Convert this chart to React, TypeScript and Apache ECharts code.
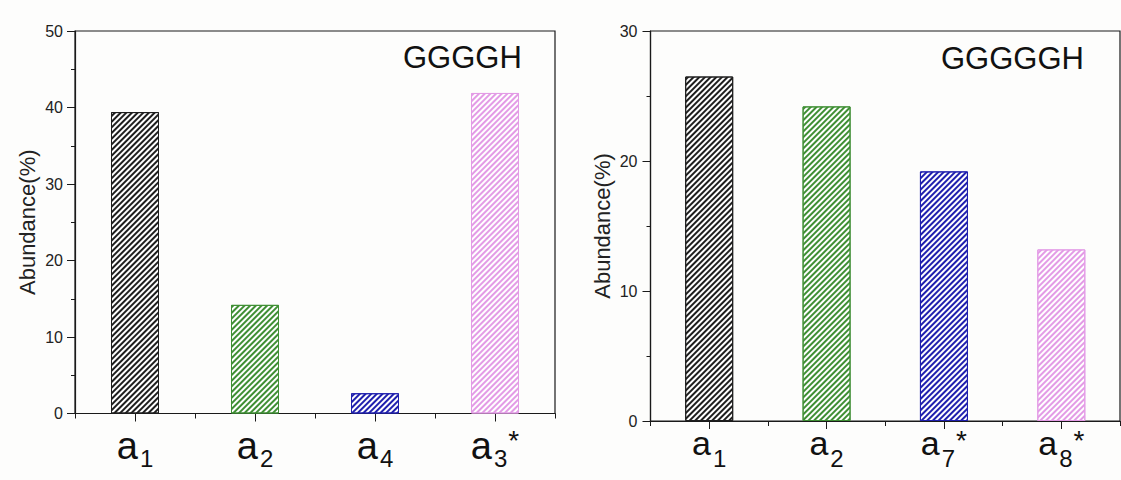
import { useEffect, useRef } from 'react';
import * as echarts from 'echarts';

const leftCategories = ['a1', 'a2', 'a4', 'a3*'];
const leftValues = [39.4, 14.2, 2.65, 41.9];
const rightCategories = ['a1', 'a2', 'a7*', 'a8*'];
const rightValues = [26.5, 24.2, 19.2, 13.2];
const leftTitle = 'GGGGH';
const rightTitle = 'GGGGGH';
const leftMax = 50;
const rightMax = 30;
const yName = 'Abundance(%)';
const barColors = ['#1e1e1e', '#3f8f34', '#1f1fae', '#e39be6'];

const FONT = "'Liberation Sans', Arial, sans-serif";
const AXIS = '#1a1a1a';

function fmtLabel(v: string) {
  const m = v.match(/^([a-z])(\d+)(\*?)$/);
  if (!m) return v;
  return `{a|${m[1]}}{s|${m[2]}}` + (m[3] ? `{st|*}` : '');
}

function rich(aSize: number, sSize: number) {
  return {
    a: { fontSize: aSize, fontFamily: FONT, color: '#111', verticalAlign: 'top', lineHeight: aSize + 2 },
    s: { fontSize: sSize, fontFamily: FONT, color: '#111', verticalAlign: 'top', lineHeight: sSize, padding: [20, 0, 0, 2] },
    st: { fontSize: sSize + 4, fontFamily: FONT, color: '#111', verticalAlign: 'top', lineHeight: sSize + 4, padding: [0, 0, 0, 1] },
  };
}

function barData(values: number[]) {
  return values.map((v, i) => ({
    value: v,
    itemStyle: {
      color: '#ffffff',
      borderColor: barColors[i],
      borderWidth: 1,
      decal: {
        symbol: 'rect',
        symbolSize: 1,
        color: barColors[i],
        dashArrayX: [1, 0],
        dashArrayY: [1.1, 1.9],
        rotation: -Math.PI / 4,
      },
    },
  }));
}

export default function App() {
  const ref = useRef<HTMLDivElement>(null);
  useEffect(() => {
    document.body.style.margin = '0';
    const chart = echarts.init(ref.current!, null, { renderer: 'svg' });
    const xMain = (gridIndex: number, data: string[], aSize: number, sSize: number, margin: number) => ({
      type: 'category',
      gridIndex,
      data,
      position: 'bottom',
      axisLine: { show: true, lineStyle: { color: AXIS, width: 1.2 } },
      axisTick: { show: true, alignWithLabel: true, length: 8, inside: false, lineStyle: { color: AXIS } },
      axisLabel: { margin, formatter: fmtLabel, rich: rich(aSize, sSize) },
      splitLine: { show: false },
    });
    const xMinor = (gridIndex: number, data: string[]) => ({
      type: 'category',
      gridIndex,
      data,
      position: 'bottom',
      axisLine: { show: false },
      axisTick: { show: true, length: 5, lineStyle: { color: AXIS } },
      axisLabel: { show: false },
      splitLine: { show: false },
    });
    const yAx = (gridIndex: number, max: number, margin: number, nameGap: number) => ({
      type: 'value',
      gridIndex,
      min: 0,
      max,
      interval: 10,
      name: yName,
      nameLocation: 'middle',
      nameRotate: 90,
      nameGap,
      nameTextStyle: { fontSize: 22, fontFamily: FONT, color: '#222' },
      axisLine: { show: true, lineStyle: { color: AXIS, width: 1.2 } },
      axisTick: { show: true, length: 8, lineStyle: { color: AXIS } },
      minorTick: { show: true, splitNumber: 2, length: 4, lineStyle: { color: AXIS } },
      axisLabel: { margin, fontSize: 16, fontFamily: FONT, color: '#222' },
      splitLine: { show: false },
    });
    chart.setOption({
      animation: false,
      backgroundColor: '#fdfdfc',
      grid: [
        { left: 75, top: 31, width: 480, height: 382.5, show: true, borderColor: AXIS, borderWidth: 1.2, backgroundColor: 'transparent' },
        { left: 650.5, top: 31, width: 469.5, height: 390, show: true, borderColor: AXIS, borderWidth: 1.2, backgroundColor: 'transparent' },
      ],
      xAxis: [
        xMain(0, leftCategories, 38, 24, 13),
        xMinor(0, leftCategories),
        xMain(1, rightCategories, 34, 24, 5),
        xMinor(1, rightCategories),
      ],
      yAxis: [yAx(0, leftMax, 12, 37), yAx(1, rightMax, 13, 37)],
      series: [
        { type: 'bar', xAxisIndex: 0, yAxisIndex: 0, barWidth: 48, data: barData(leftValues) },
        { type: 'bar', xAxisIndex: 2, yAxisIndex: 1, barWidth: 48, data: barData(rightValues) },
      ],
      graphic: [
        { type: 'text', x: 403, y: 57.5, style: { text: leftTitle, fontSize: 31, fontFamily: FONT, fill: '#111', textVerticalAlign: 'middle' } },
        { type: 'text', x: 941, y: 58, style: { text: rightTitle, fontSize: 31, fontFamily: FONT, fill: '#111', textVerticalAlign: 'middle' } },
      ],
    });
    return () => chart.dispose();
  }, []);
  return <div ref={ref} style={{ width: 1121, height: 480 }} />;
}
